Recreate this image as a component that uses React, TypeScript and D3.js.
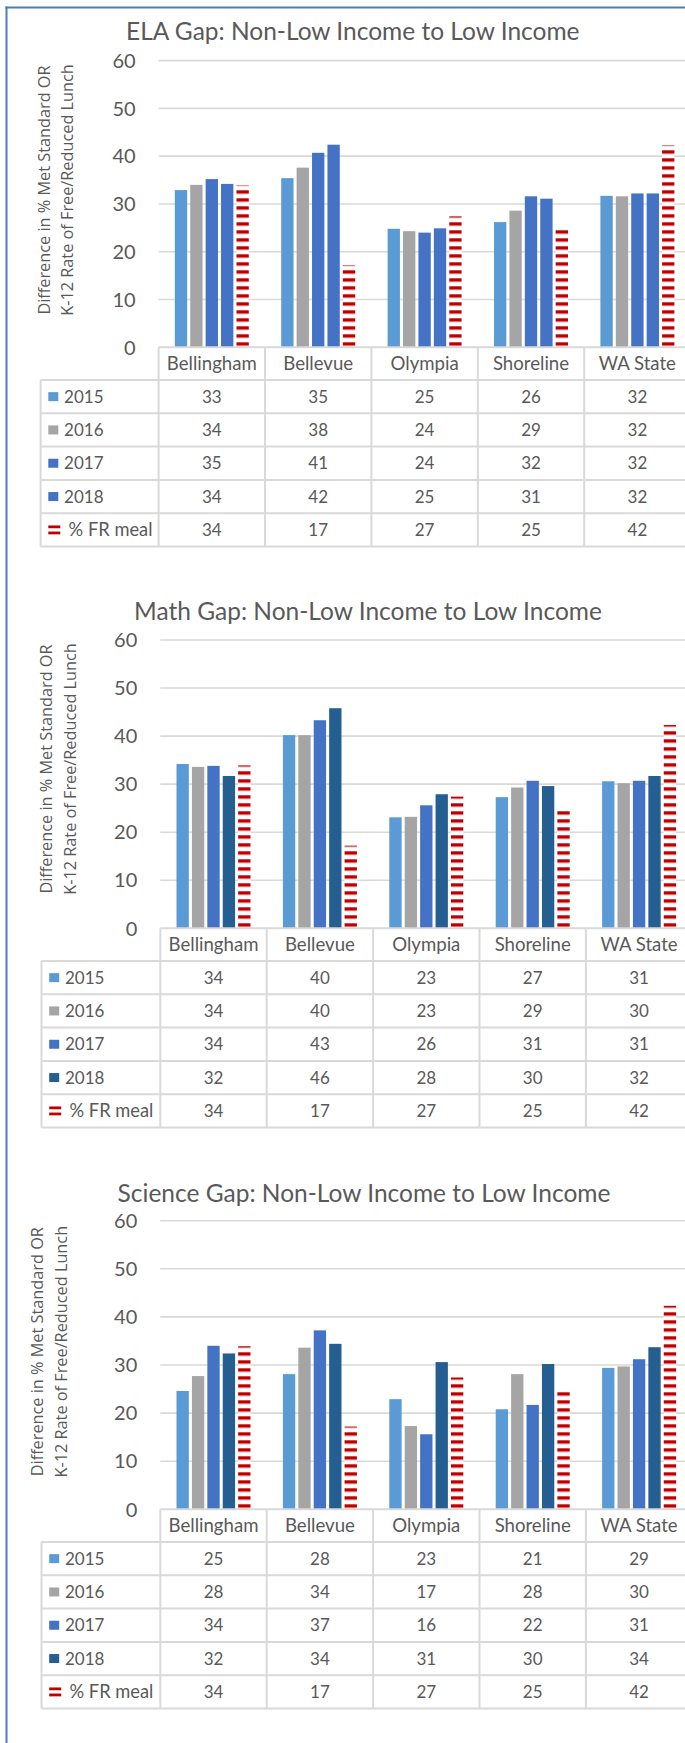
import * as d3 from "d3";

const categories = ["Bellingham", "Bellevue", "Olympia", "Shoreline", "WA State"];
const seriesNames = ["2015", "2016", "2017", "2018", "% FR meal"];
const yTicks = [0, 10, 20, 30, 40, 50, 60];

// % free/reduced meal, same in all three charts
const frMeal = [33.9, 17.2, 27.4, 24.7, 42.3];

const ela2015 = [32.9, 35.4, 24.8, 26.2, 31.7];
const ela2016 = [34.0, 37.6, 24.3, 28.6, 31.6];
const ela2017 = [35.2, 40.7, 24.0, 31.6, 32.2];
const ela2018 = [34.2, 42.4, 24.9, 31.1, 32.2];

const math2015 = [34.2, 40.2, 23.1, 27.3, 30.6];
const math2016 = [33.6, 40.2, 23.2, 29.3, 30.2];
const math2017 = [33.8, 43.3, 25.6, 30.7, 30.7];
const math2018 = [31.7, 45.8, 27.9, 29.6, 31.7];

const sci2015 = [24.6, 28.1, 22.9, 20.8, 29.4];
const sci2016 = [27.7, 33.6, 17.3, 28.1, 29.7];
const sci2017 = [34.0, 37.2, 15.6, 21.7, 31.2];
const sci2018 = [32.4, 34.4, 30.6, 30.2, 33.7];

const yLabel1 = "Difference in % Met Standard OR";
const yLabel2 = "K-12 Rate of Free/Reduced Lunch";

const charts = [
  {
    id: "ela",
    title: "ELA Gap: Non-Low Income to Low Income",
    series: [ela2015, ela2016, ela2017, ela2018, frMeal],
    colors: ["#5b9bd5", "#a5a5a5", "#4472c4", "#4472c4"],
    y0: 347.3, y60: 60.6, left: 158.6, tableLeft: 40.6,
    titleX: 352.8, titleY: 40, labX: [44.3, 67.3], labY: 190,
  },
  {
    id: "math",
    title: "Math Gap: Non-Low Income to Low Income",
    series: [math2015, math2016, math2017, math2018, frMeal],
    colors: ["#5b9bd5", "#a5a5a5", "#4472c4", "#255e91"],
    y0: 928.3, y60: 640, left: 160.3, tableLeft: 41.5,
    titleX: 368, titleY: 620, labX: [45.9, 69.9], labY: 769,
  },
  {
    id: "sci",
    title: "Science Gap: Non-Low Income to Low Income",
    series: [sci2015, sci2016, sci2017, sci2018, frMeal],
    colors: ["#5b9bd5", "#a5a5a5", "#4472c4", "#255e91"],
    y0: 1509.3, y60: 1220.7, left: 160.3, tableLeft: 41.5,
    titleX: 364, titleY: 1201.7, labX: [37.1, 61.2], labY: 1351.7,
  },
];

const TEXT = "#595959";
const LINE = "#d9d9d9";
const RED = "#c00000";
const FONT = "Lato, 'Open Sans', sans-serif";
const STEP = 106.4;
const HEAD_H = 32.7;
const ROW_H = 33.3;

function Chart({ cfg }: { cfg: (typeof charts)[number] }) {
  const right = cfg.left + STEP * categories.length;
  const x = d3.scaleBand().domain(categories).range([cfg.left, right]);
  const bw = x.bandwidth();
  const x1 = d3
    .scaleBand()
    .domain(seriesNames)
    .range([16.2, bw - 16.2])
    .paddingInner(0.2);
  const y = d3.scaleLinear().domain([0, 60]).range([cfg.y0, cfg.y60]);
  const patId = `fr-${cfg.id}`;
  const headBottom = cfg.y0 + HEAD_H;
  const tableBottom = headBottom + ROW_H * seriesNames.length;

  return (
    <g>
      <defs>
        <pattern
          id={patId}
          patternUnits="userSpaceOnUse"
          x={0}
          y={cfg.y0 - 5}
          width={8}
          height={8}
        >
          <rect width={8} height={8} fill="#ffffff" />
          <rect y={0} width={8} height={3.4} fill={RED} />
        </pattern>
      </defs>

      <text
        x={cfg.titleX}
        y={cfg.titleY}
        textAnchor="middle"
        fontFamily={FONT}
        fontSize={24.5}
        fill={TEXT}
      >
        {cfg.title}
      </text>

      {/* gridlines */}
      {yTicks
        .filter((t) => t > 0)
        .map((t) => (
          <line
            key={t}
            x1={cfg.left}
            x2={right}
            y1={y(t)}
            y2={y(t)}
            stroke={LINE}
            strokeWidth={1.6}
          />
        ))}

      {/* y tick labels */}
      {yTicks.map((t) => (
        <text
          key={t}
          x={cfg.left - 23}
          y={y(t)}
          dy="0.36em"
          textAnchor="end"
          fontFamily={FONT}
          fontSize={20}
          fill={TEXT}
        >
          {t}
        </text>
      ))}

      {/* y axis title */}
      {[yLabel1, yLabel2].map((s, i) => (
        <text
          key={s}
          transform={`translate(${cfg.labX[i]},${cfg.labY}) rotate(-90)`}
          textAnchor="middle"
          dy="0.35em"
          fontFamily="'Open Sans', sans-serif"
          fontSize={16.3}
          fill={TEXT}
        >
          {s}
        </text>
      ))}

      {/* bars */}
      {categories.map((c, ci) => (
        <g key={c} transform={`translate(${x(c)},0)`}>
          {cfg.series.map((vals, si) => (
            <rect
              key={si}
              x={x1(seriesNames[si])}
              y={y(vals[ci])}
              width={x1.bandwidth()}
              height={cfg.y0 - y(vals[ci])}
              fill={si === 4 ? `url(#${patId})` : cfg.colors[si]}
            />
          ))}
        </g>
      ))}

      {/* data table */}
      <line x1={cfg.left} x2={right} y1={cfg.y0} y2={cfg.y0} stroke={LINE} strokeWidth={2} />
      {d3.range(seriesNames.length + 1).map((r) => (
        <line
          key={r}
          x1={cfg.tableLeft}
          x2={right}
          y1={headBottom + r * ROW_H}
          y2={headBottom + r * ROW_H}
          stroke={LINE}
          strokeWidth={2}
        />
      ))}
      <line
        x1={cfg.tableLeft}
        x2={cfg.tableLeft}
        y1={headBottom}
        y2={tableBottom}
        stroke={LINE}
        strokeWidth={2}
      />
      {categories.map((c) => (
        <line
          key={c}
          x1={x(c)}
          x2={x(c)}
          y1={cfg.y0}
          y2={tableBottom}
          stroke={LINE}
          strokeWidth={2}
        />
      ))}
      {categories.map((c) => (
        <text
          key={c}
          x={x(c)! + bw / 2}
          y={cfg.y0 + HEAD_H / 2}
          dy="0.36em"
          textAnchor="middle"
          fontFamily={FONT}
          fontSize={18.6}
          fill={TEXT}
        >
          {c}
        </text>
      ))}
      {seriesNames.map((s, si) => {
        const cy = headBottom + ROW_H * (si + 0.5);
        return (
          <g key={s}>
            {si < 4 ? (
              <rect
                x={cfg.tableLeft + 7.7}
                y={cy - 4.5}
                width={10}
                height={9}
                fill={cfg.colors[si]}
              />
            ) : (
              <g>
                <rect x={cfg.tableLeft + 7.7} y={cy - 4.4} width={12} height={2.8} fill={RED} />
                <rect x={cfg.tableLeft + 7.7} y={cy + 1.7} width={12} height={2.8} fill={RED} />
              </g>
            )}
            <text
              x={cfg.tableLeft + (si < 4 ? 23.5 : 28)}
              y={cy}
              dy="0.36em"
              fontFamily={FONT}
              fontSize={si < 4 ? 17 : 18.3}
              fill={TEXT}
            >
              {s}
            </text>
            {categories.map((c, ci) => (
              <text
                key={c}
                x={x(c)! + bw / 2}
                y={cy}
                dy="0.36em"
                textAnchor="middle"
                fontFamily={FONT}
                fontSize={17}
                fill={TEXT}
              >
                {Math.round(cfg.series[si][ci])}
              </text>
            ))}
          </g>
        );
      })}
    </g>
  );
}

export default function App() {
  return (
    <svg
      width={685}
      height={1743}
      style={{ position: "absolute", left: 0, top: 0, background: "#ffffff" }}
    >
      <rect width={685} height={1743} fill="#ffffff" />
      <line x1={6.5} x2={6.5} y1={6.5} y2={1743} stroke="#4a7ebb" strokeWidth={2} />
      <line x1={5.5} x2={685} y1={7.5} y2={7.5} stroke="#4a7ebb" strokeWidth={2} />
      {charts.map((c) => (
        <Chart key={c.id} cfg={c} />
      ))}
    </svg>
  );
}
